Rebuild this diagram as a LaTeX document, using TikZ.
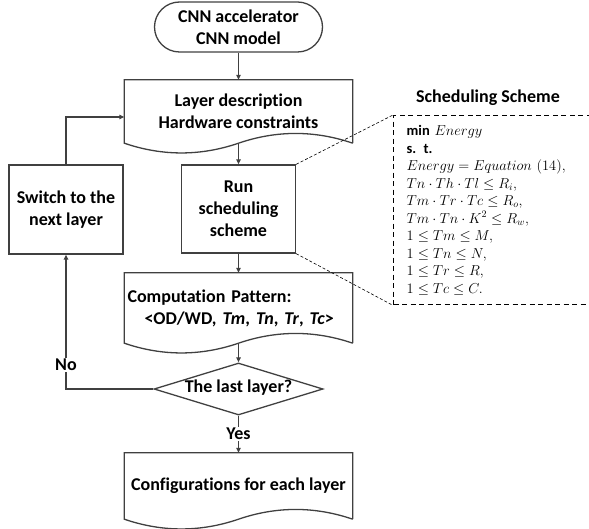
\documentclass[tikz,border=0pt]{standalone}
\usepackage{fontspec}
\setmainfont{Carlito}[Ligatures={NoCommon,NoContextual}]
\usetikzlibrary{arrows.meta,shapes.geometric,calc}
\definecolor{linegray}{HTML}{404040}
\newcommand{\mainsize}{\fontsize{18}{22}\selectfont}
\tikzset{
 ln/.style={draw=linegray, line width=1.3pt},
 arr/.style={ln, -{Triangle[length=5pt,width=4.5pt]}},
 box/.style={ln, rectangle, align=center, inner sep=2pt, font=\bfseries\mainsize},
 term/.style={box, rounded corners=25pt},
 docnode/.style={rectangle, align=center, font=\bfseries\mainsize, minimum width=228pt, inner sep=3pt},
 lbl/.style={fill=white, font=\bfseries\mainsize, inner sep=1pt},
 thindash/.style={draw=black, line width=0.6pt, dash pattern=on 3pt off 2pt},
}
\newcommand{\docoutline}[1]{%
 \draw[ln, line join=miter] (#1.south east) -- (#1.north east) -- (#1.north west) -- (#1.south west)
 .. controls +(38,13) and +(-38,13) .. ($(#1.south west)!0.5!(#1.south east)$)
 .. controls +(38,-13) and +(-38,-13) .. (#1.south east);}
\begin{document}
\begin{tikzpicture}[x=1pt,y=-1pt]
\useasboundingbox (0,0) rectangle (589,529);
\node[term, minimum width=168pt, minimum height=50pt] (start) at (238.5,27) {CNN accelerator\\CNN model};
\node[docnode, minimum height=63pt] (layer) at (238.5,111.5) {Layer description\\Hardware constraints};
\docoutline{layer}
\node[box, minimum width=114pt, minimum height=88pt] (run) at (238.5,209) {Run\\scheduling\\scheme};
\node[box, minimum width=114pt, minimum height=89pt] (switch) at (66,209.5) {Switch to the\\next layer};
\node[docnode, minimum height=70pt, align=left, text width=222pt] (comp) at (238.5,308) {Computation Pattern:\\\hspace*{17pt}<OD/WD, \textit{Tm}, \textit{Tn}, \textit{Tr}, \textit{Tc}>};
\docoutline{comp}
\node[diamond, shape aspect=3.25, ln, minimum width=169pt, minimum height=52pt, inner sep=0pt, font=\bfseries\mainsize, text height=10pt, text depth=3pt] (dec) at (238.5,389) {The last layer?};
\node[docnode, minimum height=66pt] (config) at (238.5,486) {Configurations for each layer};
\docoutline{config}

\draw[arr] (start.south) -- (layer.north);
\draw[arr] (layer.south) -- (run.north);
\draw[arr] (run.south) -- (comp.north);
\draw[arr] (comp.south) -- (dec.north);
\draw[arr] (dec.south) -- node[lbl]{Yes} (config.north);
\draw[arr] (dec.west) -| node[lbl, pos=0.589]{No} (switch.south);
\draw[arr] (switch.north) |- ([yshift=-5.5pt]layer.west);

\node[font=\bfseries\mainsize] (title) at (488,98) {Scheduling Scheme};
\node[draw=black, line width=1.4pt, dash pattern=on 5pt off 3.5pt, minimum width=200pt, minimum height=189pt, text width=174pt, inner xsep=13pt, inner ysep=0pt, align=left, anchor=north west, font=\fontsize{14.5}{17.5}\selectfont] (scheme) at (393,115)
{\textbf{min} $Energy$\\
\textbf{s. t.}\\
$Energy = Equation\ (14),$\\
$Tn\cdot Th\cdot Tl \le R_i,$\\
$Tm\cdot Tr\cdot Tc \le R_o,$\\
$Tm\cdot Tn\cdot K^2 \le R_w,$\\
$1\le Tm\le M,$\\
$1\le Tn\le N,$\\
$1\le Tr\le R,$\\
$1\le Tc\le C.$};
\draw[thindash] (run.north east) -- (scheme.north west);
\draw[thindash] (run.south east) -- (scheme.south west);
\end{tikzpicture}
\end{document}
